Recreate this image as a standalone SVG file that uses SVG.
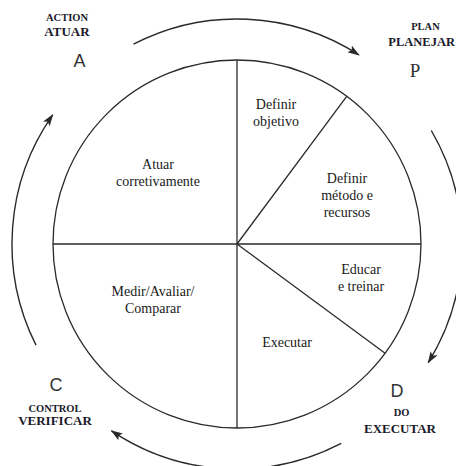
<svg xmlns="http://www.w3.org/2000/svg" width="456" height="466" viewBox="0 0 456 466">
<style>
.ln{fill:none;stroke:#2a2a2a;stroke-width:1.3}
.arc{fill:none;stroke:#2a2a2a;stroke-width:1.4}
.t{font-family:"Liberation Serif","DejaVu Serif","Times New Roman",serif;font-size:14px;fill:#1a1a1a;text-anchor:middle}
.sm{font-family:"Liberation Serif","DejaVu Serif","Times New Roman",serif;font-size:10.5px;font-weight:bold;fill:#1a1a2a;text-anchor:middle}
.big{font-family:"Liberation Serif","DejaVu Serif","Times New Roman",serif;font-size:13px;font-weight:bold;fill:#1a1a2a;text-anchor:middle}
.let{font-family:"Liberation Sans",Arial,sans-serif;font-size:18px;fill:#333;text-anchor:middle}
.lets{font-family:"Liberation Serif","DejaVu Serif","Times New Roman",serif;font-size:19px;fill:#333;text-anchor:middle}
</style>
<defs>
<marker id="ah" viewBox="0 0 12 8" markerWidth="12" markerHeight="8" refX="11" refY="4" orient="auto" markerUnits="userSpaceOnUse">
<path d="M0,0 L12,4 L0,8 L2.5,4 z" fill="#2a2a2a"/>
</marker>
</defs>
<g id="wheel">
<circle class="ln" cx="237" cy="244" r="184"/>
<line class="ln" x1="237" y1="60" x2="237" y2="428"/>
<line class="ln" x1="53" y1="244" x2="421" y2="244"/>
<line class="ln" x1="237" y1="244" x2="346.7" y2="96.3"/>
<line class="ln" x1="237" y1="244" x2="385.1" y2="353.2"/>
</g>
<g id="connectors">
<path class="arc" d="M133.5,44.2 A225,225 0 0 1 358.9,54.9" marker-end="url(#ah)"/>
<path class="arc" d="M431.3,130.5 A225,225 0 0 1 428.2,362.6" marker-end="url(#ah)"/>
<path class="arc" d="M341.2,443.4 A225,225 0 0 1 111.5,430.8" marker-end="url(#ah)"/>
<path class="arc" d="M36,345.1 A225,225 0 0 1 52.7,114.9" marker-end="url(#ah)"/>
</g>
<g id="seg-objetivo">
<text class="t" x="276" y="109">Definir</text>
<text class="t" x="276" y="126">objetivo</text>
</g>
<g id="seg-metodo">
<text class="t" x="347" y="183">Definir</text>
<text class="t" x="347" y="200">método e</text>
<text class="t" x="347" y="217">recursos</text>
</g>
<g id="seg-educar">
<text class="t" x="361" y="274">Educar</text>
<text class="t" x="361" y="291">e treinar</text>
</g>
<g id="seg-executar">
<text class="t" x="287" y="347">Executar</text>
</g>
<g id="seg-medir">
<text class="t" x="153" y="296">Medir/Avaliar/</text>
<text class="t" x="153" y="313">Comparar</text>
</g>
<g id="seg-atuar">
<text class="t" x="158" y="169">Atuar</text>
<text class="t" x="158" y="186">corretivamente</text>
</g>
<g id="label-A">
<text class="sm" x="67" y="21">ACTION</text>
<text class="big" x="67" y="36">ATUAR</text>
<text class="let" x="79.5" y="67">A</text>
</g>
<g id="label-P">
<text class="sm" x="425.5" y="30">PLAN</text>
<text class="big" x="455" y="46" style="text-anchor:end;font-size:12.5px">PLANEJAR</text>
<text class="lets" x="415" y="77">P</text>
</g>
<g id="label-C">
<text class="let" x="56" y="391">C</text>
<text class="sm" x="55" y="412">CONTROL</text>
<text class="big" x="55" y="425">VERIFICAR</text>
</g>
<g id="label-D">
<text class="let" x="397" y="397">D</text>
<text class="sm" x="401.5" y="416">DO</text>
<text class="big" x="400" y="433">EXECUTAR</text>
</g>
</svg>
